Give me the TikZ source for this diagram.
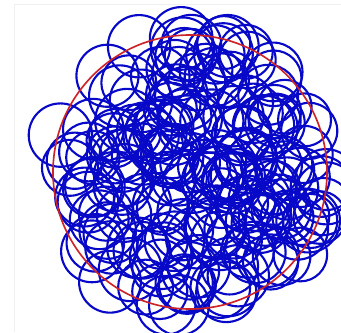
\documentclass[tikz,border=0pt]{standalone}
\usepackage{tikz}
\usepackage{xcolor}
\definecolor{ringBlue}{RGB}{8,8,200}
\definecolor{ringRed}{RGB}{205,35,40}
\definecolor{frameGrey}{RGB}{240,240,242}
\usetikzlibrary{calc}
\tikzset{
  ring/.style={draw=ringBlue, line width=1.8pt},
  bound/.style={draw=ringRed, line width=1.4pt},
}

\begin{document}
\begin{tikzpicture}[x=0.03cm, y=0.03cm]
  \useasboundingbox[fill=white] (0,0) rectangle (341,-332);
  \draw[frameGrey, line width=0.6pt] (14,-332) -- (14,-4) -- (341,-4);
  \coordinate (centre) at (190,-172);
  % blue rings, centres scattered over the red disc
  \pgfmathsetseed{902}
  \foreach \i in {1,...,175} {
    \pgfmathsetmacro\ang{360*rnd}
    \pgfmathsetmacro\dist{138*sqrt(rnd)}
    \pgfmathsetmacro\rr{26+6*rnd}
    \draw[ring] ($(centre)+(\ang:\dist)$) circle (\rr);
  }
  \draw[bound] (centre) circle (137);
\end{tikzpicture}
\end{document}
